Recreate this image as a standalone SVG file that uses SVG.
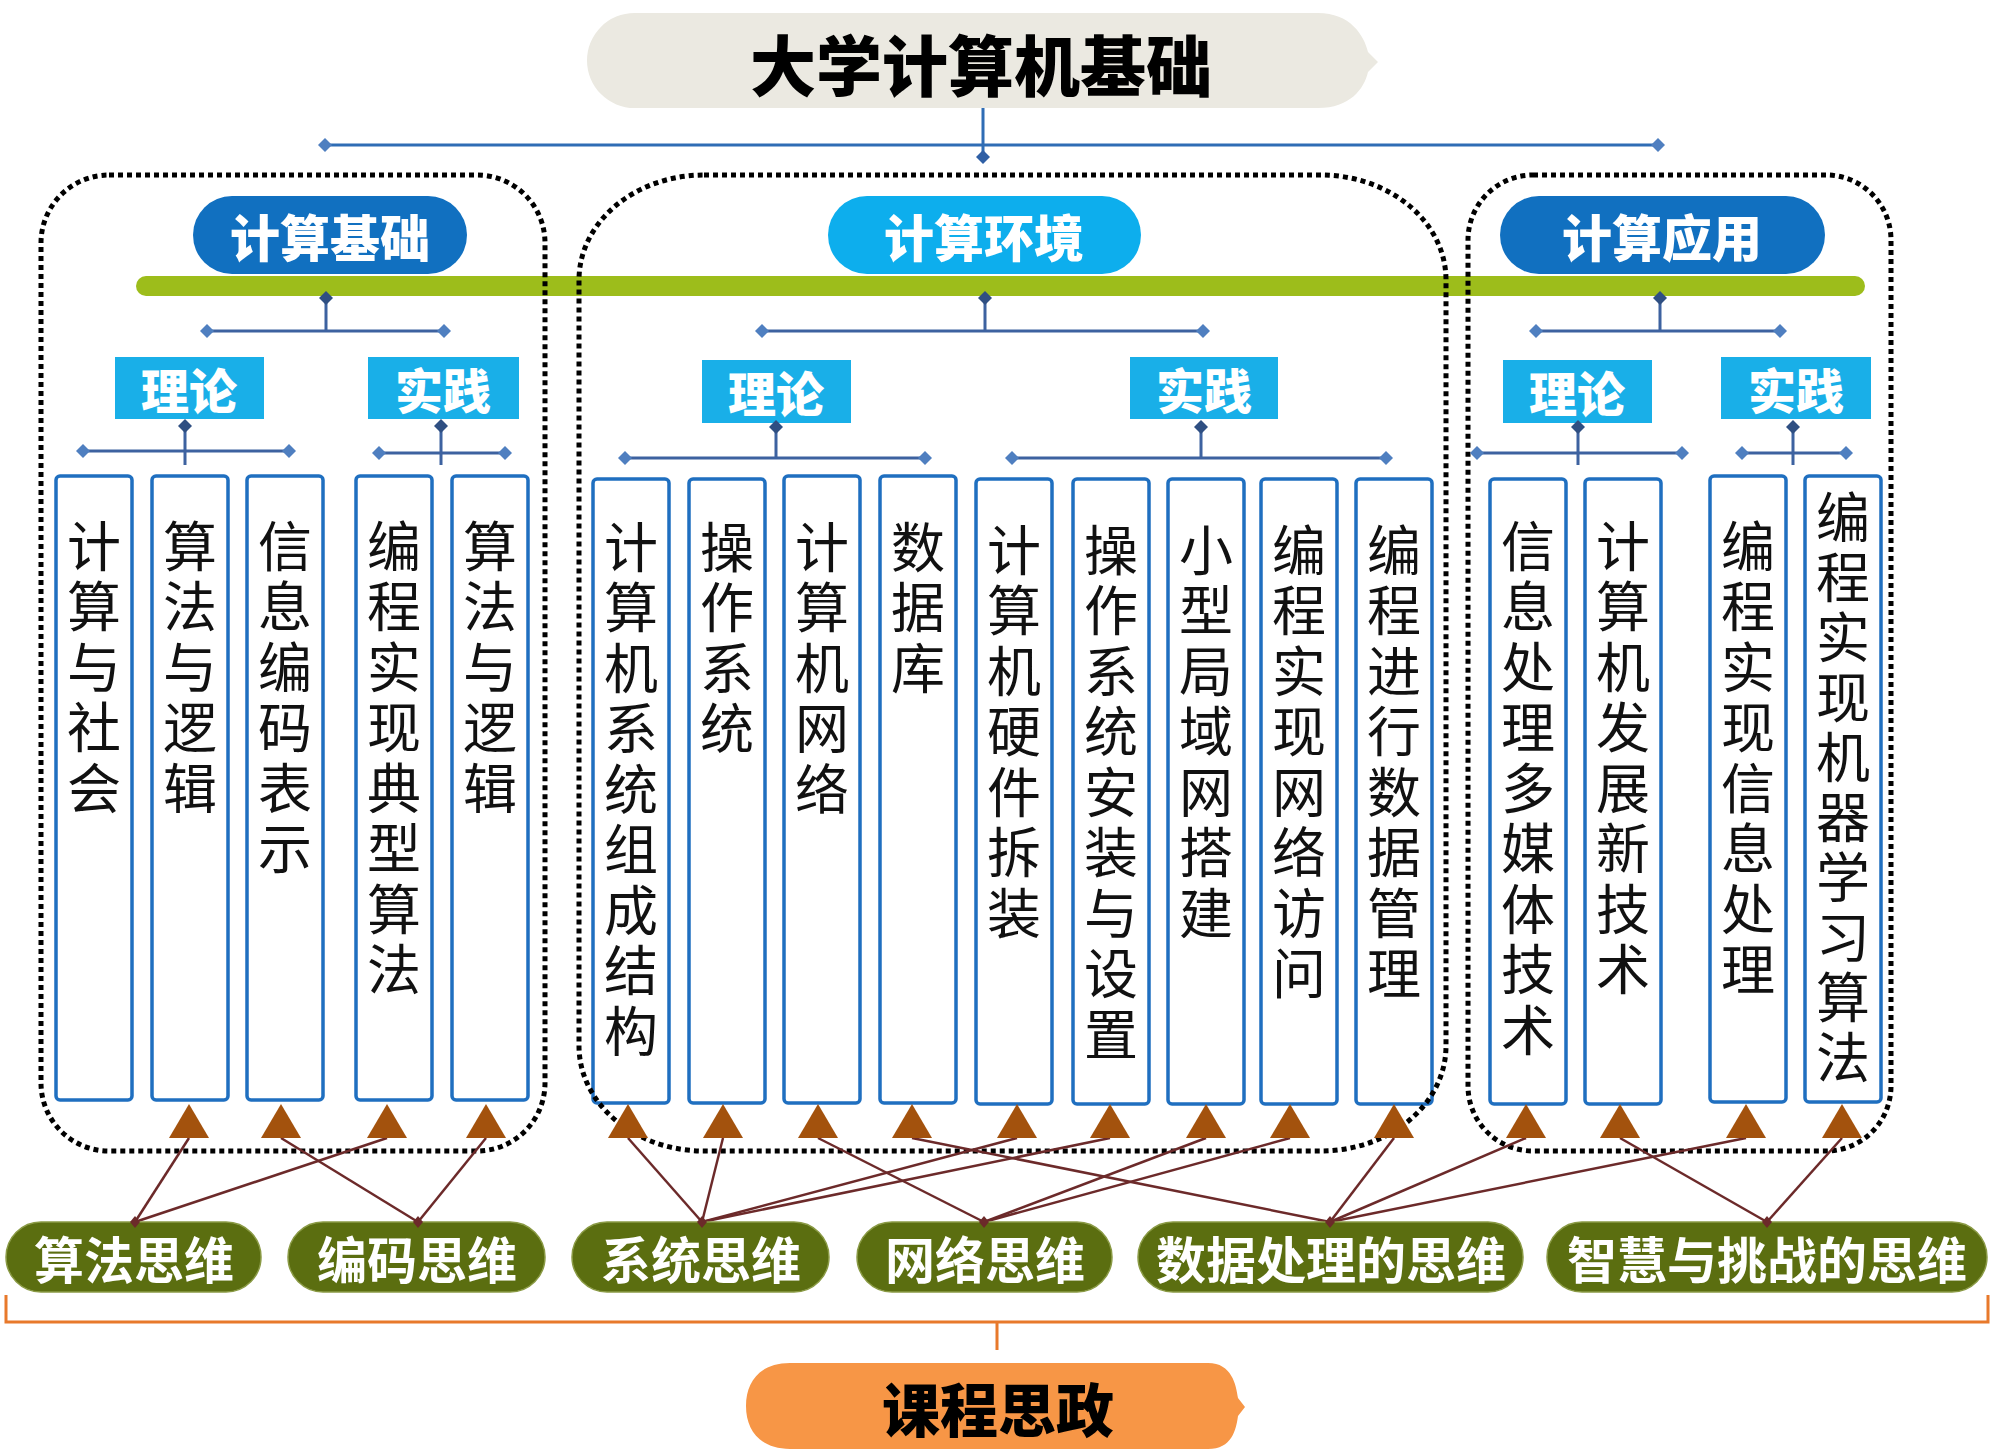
<svg xmlns="http://www.w3.org/2000/svg" width="2000" height="1451" viewBox="0 0 2000 1451">
<defs>
<path id="dia" d="M0,-7 L7,0 L0,7 L-7,0 Z"/>
<path id="dot" d="M0,-6 L5,0 L0,6 L-5,0 Z"/>
<style>
.cjk{font-family:"Noto Sans CJK SC","Liberation Sans",sans-serif;text-anchor:middle;dominant-baseline:central}
.leaf{fill:#fff;stroke:#1f6fc0;stroke-width:3.5}
.lt{font-family:"Noto Sans CJK SC","Liberation Sans",sans-serif;font-size:54px;fill:#111;writing-mode:vertical-rl;text-orientation:upright;letter-spacing:6.5px}
.lt10{letter-spacing:6px}
.dotbox{fill:none;stroke:#000;stroke-width:5;stroke-dasharray:5 4}
.hl{stroke:#3d62a0;stroke-width:3;fill:none}
.top{stroke:#2f6db5;stroke-width:3;fill:none}
.de{fill:#4f7fc0}
.dj{fill:#2f4f82}
.tri{fill:#a3520d}
.cn{stroke:#6c2a2a;stroke-width:2.5}
.pd{fill:#6c2a2a}
.pill{fill:#5b6e10;stroke:#8a9a45;stroke-width:1.5}
.pt{font-size:50px;font-weight:700;fill:#fff}
.cat{font-size:50px;font-weight:800;fill:#fff}
.sub{fill:#19afe8}
.st{font-size:48px;font-weight:800;fill:#fff}
</style>
</defs>
<rect width="2000" height="1451" fill="#fff"/>

<g id="title">
<path d="M634.5 13 H1318 C1350 13 1364 35 1368 52 L1378 62 L1368 72 C1364 89 1350 108 1318 108 H634.5 A47.5 47.5 0 0 1 634.5 13 Z" fill="#ebe9e1"/>
<text class="cjk" x="981" y="62" font-size="66" font-weight="900" fill="#000">大学计算机基础</text>
</g>

<rect id="green-bar" x="136" y="276" width="1729" height="20" rx="10" fill="#9dbd1b"/>

<g id="cat-jisuanjichu"><rect x="193" y="196" width="274" height="78" rx="39" fill="#1170c0"/><text class="cjk cat" x="330" y="235">计算基础</text></g>
<g id="cat-jisuanhuanjing"><rect x="828" y="196" width="313" height="78" rx="39" fill="#0daeed"/><text class="cjk cat" x="984" y="235">计算环境</text></g>
<g id="cat-jisuanyingyong"><rect x="1500" y="196" width="325" height="78" rx="39" fill="#1170c0"/><text class="cjk cat" x="1662" y="235">计算应用</text></g>

<g id="sub-1-lilun"><rect class="sub" x="115" y="357" width="149" height="62"/><text class="cjk st" x="189" y="388">理论</text></g>
<g id="sub-1-shijian"><rect class="sub" x="368" y="357" width="151" height="62"/><text class="cjk st" x="443" y="388">实践</text></g>
<g id="sub-2-lilun"><rect class="sub" x="702" y="360" width="149" height="63"/><text class="cjk st" x="776" y="391">理论</text></g>
<g id="sub-2-shijian"><rect class="sub" x="1130" y="357" width="148" height="62"/><text class="cjk st" x="1204" y="388">实践</text></g>
<g id="sub-3-lilun"><rect class="sub" x="1503" y="360" width="149" height="63"/><text class="cjk st" x="1577" y="391">理论</text></g>
<g id="sub-3-shijian"><rect class="sub" x="1721" y="357" width="150" height="62"/><text class="cjk st" x="1796" y="388">实践</text></g>

<g id="leaf-1"><rect class="leaf" x="56" y="476" width="76" height="624" rx="4"/><text class="lt" x="94" y="519">计算与社会</text></g>
<g id="leaf-2"><rect class="leaf" x="152" y="476" width="76" height="624" rx="4"/><text class="lt" x="190" y="519">算法与逻辑</text></g>
<g id="leaf-3"><rect class="leaf" x="247" y="476" width="76" height="624" rx="4"/><text class="lt" x="285" y="519">信息编码表示</text></g>
<g id="leaf-4"><rect class="leaf" x="356" y="476" width="76" height="624" rx="4"/><text class="lt" x="394" y="519">编程实现典型算法</text></g>
<g id="leaf-5"><rect class="leaf" x="452" y="476" width="76" height="624" rx="4"/><text class="lt" x="490" y="519">算法与逻辑</text></g>
<g id="leaf-6"><rect class="leaf" x="593" y="479" width="76" height="624" rx="4"/><text class="lt" x="631" y="520">计算机系统组成结构</text></g>
<g id="leaf-7"><rect class="leaf" x="689" y="479" width="76" height="624" rx="4"/><text class="lt" x="727" y="520">操作系统</text></g>
<g id="leaf-8"><rect class="leaf" x="784" y="476" width="76" height="627" rx="4"/><text class="lt" x="822" y="520">计算机网络</text></g>
<g id="leaf-9"><rect class="leaf" x="880" y="476" width="76" height="627" rx="4"/><text class="lt" x="918" y="520">数据库</text></g>
<g id="leaf-10"><rect class="leaf" x="976" y="479" width="76" height="625" rx="4"/><text class="lt" x="1014" y="523">计算机硬件拆装</text></g>
<g id="leaf-11"><rect class="leaf" x="1073" y="479" width="76" height="625" rx="4"/><text class="lt" x="1111" y="523">操作系统安装与设置</text></g>
<g id="leaf-12"><rect class="leaf" x="1168" y="479" width="76" height="625" rx="4"/><text class="lt" x="1206" y="523">小型局域网搭建</text></g>
<g id="leaf-13"><rect class="leaf" x="1261" y="479" width="76" height="625" rx="4"/><text class="lt" x="1299" y="523">编程实现网络访问</text></g>
<g id="leaf-14"><rect class="leaf" x="1356" y="479" width="76" height="625" rx="4"/><text class="lt" x="1394" y="523">编程进行数据管理</text></g>
<g id="leaf-15"><rect class="leaf" x="1490" y="479" width="76" height="625" rx="4"/><text class="lt" x="1528" y="519">信息处理多媒体技术</text></g>
<g id="leaf-16"><rect class="leaf" x="1585" y="479" width="76" height="625" rx="4"/><text class="lt" x="1623" y="519">计算机发展新技术</text></g>
<g id="leaf-17"><rect class="leaf" x="1710" y="476" width="76" height="626" rx="4"/><text class="lt" x="1748" y="519">编程实现信息处理</text></g>
<g id="leaf-18"><rect class="leaf" x="1805" y="476" width="76" height="626" rx="4"/><text class="lt lt10" x="1843" y="490">编程实现机器学习算法</text></g>

<g id="groups">
<rect class="dotbox" x="41" y="175" width="504" height="976" rx="68"/>
<rect class="dotbox" x="579" y="175" width="867" height="976" rx="125" ry="105"/>
<rect class="dotbox" x="1468" y="175" width="423" height="976" rx="65"/>
</g>

<g id="connectors">
<path class="top" d="M983 108 V157 M325 145 H1658"/>
<use href="#dia" class="de" x="325" y="145"/><use href="#dia" class="de" x="1658" y="145"/><use href="#dia" x="983" y="157" fill="#2f5fa5"/>
<path class="hl" d="M326 298 V331 M207 331 H444 M985 298 V331 M762 331 H1203 M1660 298 V331 M1536 331 H1780"/>
<use href="#dia" class="dj" x="326" y="298"/><use href="#dia" class="dj" x="985" y="298"/><use href="#dia" class="dj" x="1660" y="298"/>
<use href="#dia" class="de" x="207" y="331"/><use href="#dia" class="de" x="444" y="331"/>
<use href="#dia" class="de" x="762" y="331"/><use href="#dia" class="de" x="1203" y="331"/>
<use href="#dia" class="de" x="1536" y="331"/><use href="#dia" class="de" x="1780" y="331"/>
<path class="hl" d="M185 426 V465 M83 451 H289 M441 426 V465 M379 453 H505 M776 427 V458 M625 458 H925 M1201 427 V458 M1012 458 H1386 M1578 427 V465 M1477 453 H1682 M1793 427 V465 M1742 453 H1846"/>
<use href="#dia" class="dj" x="185" y="426"/><use href="#dia" class="dj" x="441" y="426"/><use href="#dia" class="dj" x="776" y="427"/><use href="#dia" class="dj" x="1201" y="427"/><use href="#dia" class="dj" x="1578" y="427"/><use href="#dia" class="dj" x="1793" y="427"/>
<use href="#dia" class="de" x="83" y="451"/><use href="#dia" class="de" x="289" y="451"/>
<use href="#dia" class="de" x="379" y="453"/><use href="#dia" class="de" x="505" y="453"/>
<use href="#dia" class="de" x="625" y="458"/><use href="#dia" class="de" x="925" y="458"/>
<use href="#dia" class="de" x="1012" y="458"/><use href="#dia" class="de" x="1386" y="458"/>
<use href="#dia" class="de" x="1477" y="453"/><use href="#dia" class="de" x="1682" y="453"/>
<use href="#dia" class="de" x="1742" y="453"/><use href="#dia" class="de" x="1846" y="453"/>

<g class="cn">
<line x1="189" y1="1138" x2="135" y2="1222"/>
<line x1="387" y1="1138" x2="135" y2="1222"/>
<line x1="281" y1="1138" x2="418" y2="1222"/>
<line x1="486" y1="1138" x2="418" y2="1222"/>
<line x1="628" y1="1138" x2="702" y2="1222"/>
<line x1="723" y1="1138" x2="702" y2="1222"/>
<line x1="1017" y1="1138" x2="702" y2="1222"/>
<line x1="1110" y1="1138" x2="702" y2="1222"/>
<line x1="818" y1="1138" x2="984" y2="1222"/>
<line x1="1206" y1="1138" x2="984" y2="1222"/>
<line x1="1290" y1="1138" x2="984" y2="1222"/>
<line x1="912" y1="1138" x2="1330" y2="1222"/>
<line x1="1394" y1="1138" x2="1330" y2="1222"/>
<line x1="1526" y1="1138" x2="1330" y2="1222"/>
<line x1="1746" y1="1138" x2="1330" y2="1222"/>
<line x1="1620" y1="1138" x2="1767" y2="1222"/>
<line x1="1842" y1="1138" x2="1767" y2="1222"/>
</g>
<g class="tri">
<path d="M189 1104 L209 1138 L169 1138 Z"/>
<path d="M281 1104 L301 1138 L261 1138 Z"/>
<path d="M387 1104 L407 1138 L367 1138 Z"/>
<path d="M486 1104 L506 1138 L466 1138 Z"/>
<path d="M628 1104 L648 1138 L608 1138 Z"/>
<path d="M723 1104 L743 1138 L703 1138 Z"/>
<path d="M818 1104 L838 1138 L798 1138 Z"/>
<path d="M912 1104 L932 1138 L892 1138 Z"/>
<path d="M1017 1104 L1037 1138 L997 1138 Z"/>
<path d="M1110 1104 L1130 1138 L1090 1138 Z"/>
<path d="M1206 1104 L1226 1138 L1186 1138 Z"/>
<path d="M1290 1104 L1310 1138 L1270 1138 Z"/>
<path d="M1394 1104 L1414 1138 L1374 1138 Z"/>
<path d="M1526 1104 L1546 1138 L1506 1138 Z"/>
<path d="M1620 1104 L1640 1138 L1600 1138 Z"/>
<path d="M1746 1104 L1766 1138 L1726 1138 Z"/>
<path d="M1842 1104 L1862 1138 L1822 1138 Z"/>
</g>
<path d="M6 1295 V1322 H1988 V1295 M997 1322 V1350" fill="none" stroke="#e8792b" stroke-width="3"/>
</g>

<g id="think-suanfa"><rect class="pill" x="6" y="1222" width="255" height="70" rx="35"/><text class="cjk pt" x="134" y="1257">算法思维</text></g>
<g id="think-bianma"><rect class="pill" x="288" y="1222" width="257" height="70" rx="35"/><text class="cjk pt" x="417" y="1257">编码思维</text></g>
<g id="think-xitong"><rect class="pill" x="572" y="1222" width="257" height="70" rx="35"/><text class="cjk pt" x="701" y="1257">系统思维</text></g>
<g id="think-wangluo"><rect class="pill" x="857" y="1222" width="255" height="70" rx="35"/><text class="cjk pt" x="985" y="1257">网络思维</text></g>
<g id="think-shuju"><rect class="pill" x="1138" y="1222" width="385" height="70" rx="35"/><text class="cjk pt" x="1331" y="1257">数据处理的思维</text></g>
<g id="think-zhihui"><rect class="pill" x="1547" y="1222" width="440" height="70" rx="35"/><text class="cjk pt" x="1767" y="1257">智慧与挑战的思维</text></g>
<g id="dots">
<use href="#dot" class="pd" x="135" y="1222"/><use href="#dot" class="pd" x="418" y="1222"/><use href="#dot" class="pd" x="702" y="1222"/><use href="#dot" class="pd" x="984" y="1222"/><use href="#dot" class="pd" x="1330" y="1222"/><use href="#dot" class="pd" x="1767" y="1222"/>
</g>

<g id="kecheng-sizheng">
<path d="M790 1363 H1208 C1232 1363 1236 1385 1238 1398 L1245 1407 L1238 1416 C1236 1430 1232 1449 1208 1449 H790 C760 1449 746 1430 746 1406 C746 1382 760 1363 790 1363 Z" fill="#f79646"/>
<text class="cjk" x="998" y="1407" font-size="58" font-weight="900" fill="#000">课程思政</text>
</g>
</svg>
